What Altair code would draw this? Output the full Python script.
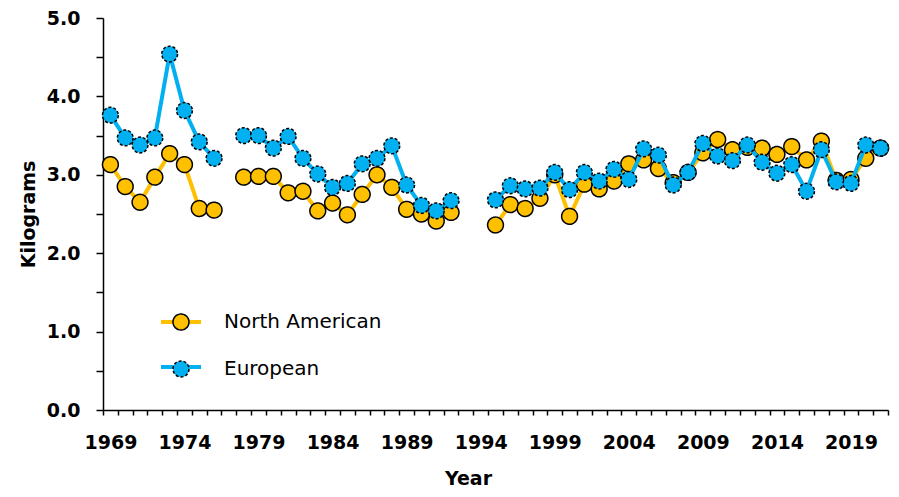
import altair as alt
import pandas as pd

years = list(range(1969, 2022))

north_american = [
    3.13, 2.85, 2.65, 2.97, 3.27, 3.13, 2.57, 2.55, None,
    2.97, 2.98, 2.98, 2.77, 2.79, 2.54, 2.64, 2.49, 2.75, 3.00, 2.84, 2.56, 2.50, 2.41, 2.52,
    None, None,
    2.36, 2.62, 2.57, 2.70, 3.00, 2.47, 2.88, 2.82, 2.92, 3.14, 3.19, 3.08, 2.90, 3.03,
    3.28, 3.45, 3.32, 3.35, 3.34, 3.26, 3.36, 3.19, 3.43, 2.93, 2.94, 3.21, 3.34,
]

european = [
    3.76, 3.47, 3.38, 3.47, 4.54, 3.82, 3.42, 3.21, None,
    3.50, 3.50, 3.34, 3.49, 3.21, 3.01, 2.84, 2.89, 3.14, 3.21, 3.37, 2.87, 2.61, 2.54, 2.67,
    None, None,
    2.68, 2.86, 2.82, 2.83, 3.03, 2.81, 3.03, 2.92, 3.07, 2.94, 3.33, 3.25, 2.87, 3.03,
    3.40, 3.24, 3.18, 3.38, 3.16, 3.02, 3.13, 2.79, 3.32, 2.91, 2.89, 3.38, 3.34,
]

series_names = ["North American", "European"]
series_colors = ["#FFC000", "#00B0F0"]
series_dashes = [[1, 0], [3, 2]]
y_tick_values = [i * 0.5 for i in range(11)]

rows = []
for name, vals in zip(series_names, [north_american, european]):
    for yr, v in zip(years, vals):
        rows.append({"Year": yr, "Kilograms": v, "Series": name})
df = pd.DataFrame(rows)

FONT = "DejaVu Sans"

x_enc = alt.X(
    "Year:O",
    scale=alt.Scale(type="band", domain=years, paddingInner=0, paddingOuter=0),
    axis=alt.Axis(
        title="Year",
        tickBand="extent",
        labelExpr="(datum.value - 1969) % 5 == 0 ? datum.label : ''",
        labelAngle=0,
        labelOverlap=False,
        tickSize=5,
        labelPadding=18,
        titleX=365,
        titleY=68,
        titleBaseline="middle",
        titleAlign="center",
    ),
)
y_enc = alt.Y(
    "Kilograms:Q",
    scale=alt.Scale(domain=[0, 5], nice=False, zero=True),
    axis=alt.Axis(
        title="Kilograms",
        values=y_tick_values,
        labelExpr="datum.value % 1 == 0 ? format(datum.value, '.1f') : ''",
        tickSize=7,
        labelPadding=16,
        titleX=-75,
        titleY=196,
        titleBaseline="middle",
        titleAlign="center",
        titleAngle=270,
    ),
)

base = alt.Chart(df).encode(x=x_enc, y=y_enc)

line_legend = alt.Legend(
    title=None, orient="none", legendX=68, legendY=294, padding=0,
    symbolType="M-2.5,0H2.5", symbolSize=256, symbolStrokeWidth=4,
    labelExpr="' '", labelOffset=33, rowPadding=25,
    labelFont=FONT, labelFontSize=20, direction="vertical",
)
pt_legend = alt.Legend(
    title=None, orient="none", legendX=68, legendY=294, padding=0,
    symbolType="circle", symbolSize=256, symbolStrokeColor="black", symbolStrokeWidth=1.5,
    labelOffset=33, rowPadding=25,
    labelFont=FONT, labelFontSize=20, labelColor="black", direction="vertical",
)

stroke_scale = alt.Scale(domain=series_names, range=series_colors)
fill_scale = alt.Scale(domain=series_names, range=series_colors)
dash_scale = alt.Scale(domain=series_names, range=series_dashes)


def line_layer(name, legend):
    return base.transform_filter(alt.datum.Series == name).mark_line(
        strokeWidth=4, invalid="break-paths-show-domains"
    ).encode(stroke=alt.Stroke("Series:N", scale=stroke_scale, legend=legend))


def point_layer(name, legend):
    return base.transform_filter(alt.datum.Series == name).mark_point(
        filled=True, shape="circle", size=250, stroke="black", strokeWidth=1.5, opacity=1
    ).encode(
        fill=alt.Fill("Series:N", scale=fill_scale, legend=legend),
        strokeDash=alt.StrokeDash("Series:N", scale=dash_scale, legend=legend),
    )


chart = (
    alt.layer(
        line_layer("North American", line_legend),
        point_layer("North American", pt_legend),
        line_layer("European", None),
        point_layer("European", None),
    )
    .resolve_legend(stroke="independent", fill="independent", strokeDash="independent")
    .properties(
        width=785,
        height=392,
        autosize=alt.AutoSizeParams(type="none"),
        padding={"left": 95, "top": 10, "right": 3, "bottom": 79},
    )
    .configure_view(strokeOpacity=0)
    .configure_axis(
        domainColor="black", domainWidth=1.5, tickColor="black", tickWidth=1.5,
        labelFont=FONT, labelFontSize=19, labelFontWeight="bold", labelColor="black",
        titleFont=FONT, titleFontSize=19, titleFontWeight="bold", titleColor="black",
        grid=False,
    )
)

chart.save("out.html", embed_options={"renderer": "svg", "actions": False})
